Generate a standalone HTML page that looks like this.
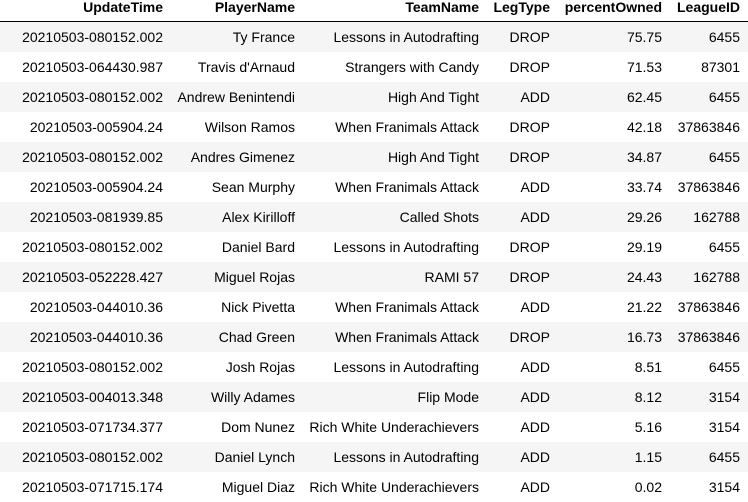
<!DOCTYPE html>
<html><head><meta charset="utf-8"><style>
body{margin:0;width:748px;height:496px;overflow:hidden;background:#fff;font-family:"Liberation Sans",Arial,sans-serif;font-size:14px;color:#000}
.row{position:absolute;left:0;width:748px;height:30px}
.hdr{top:0;height:21px;border-bottom:1px solid #000;font-weight:bold}
.odd{background:#f5f5f5}
.c{position:absolute;text-align:right;white-space:nowrap;line-height:30px}
.hdr .c{line-height:15px}
</style></head><body>
<div id="t"></div>
<script>
const cols=["UpdateTime","PlayerName","TeamName","LegType","percentOwned","LeagueID"];
const rights=[163,295,479,550,662,740];
const rows=[
["20210503-080152.002","Ty France","Lessons in Autodrafting","DROP","75.75","6455"],
["20210503-064430.987","Travis d'Arnaud","Strangers with Candy","DROP","71.53","87301"],
["20210503-080152.002","Andrew Benintendi","High And Tight","ADD","62.45","6455"],
["20210503-005904.24","Wilson Ramos","When Franimals Attack","DROP","42.18","37863846"],
["20210503-080152.002","Andres Gimenez","High And Tight","DROP","34.87","6455"],
["20210503-005904.24","Sean Murphy","When Franimals Attack","ADD","33.74","37863846"],
["20210503-081939.85","Alex Kirilloff","Called Shots","ADD","29.26","162788"],
["20210503-080152.002","Daniel Bard","Lessons in Autodrafting","DROP","29.19","6455"],
["20210503-052228.427","Miguel Rojas","RAMI 57","DROP","24.43","162788"],
["20210503-044010.36","Nick Pivetta","When Franimals Attack","ADD","21.22","37863846"],
["20210503-044010.36","Chad Green","When Franimals Attack","DROP","16.73","37863846"],
["20210503-080152.002","Josh Rojas","Lessons in Autodrafting","ADD","8.51","6455"],
["20210503-004013.348","Willy Adames","Flip Mode","ADD","8.12","3154"],
["20210503-071734.377","Dom Nunez","Rich White Underachievers","ADD","5.16","3154"],
["20210503-080152.002","Daniel Lynch","Lessons in Autodrafting","ADD","1.15","6455"],
["20210503-071715.174","Miguel Diaz","Rich White Underachievers","ADD","0.02","3154"]];
const t=document.getElementById('t');
function cell(r,txt,i){const c=document.createElement('div');c.className='c';c.textContent=txt;
c.style.right=(748-rights[i])+'px';


r.appendChild(c);}
const h=document.createElement('div');h.className='row hdr';


cols.forEach((n,i)=>cell(h,n,i));t.appendChild(h);
rows.forEach((rw,j)=>{const r=document.createElement('div');r.className='row'+(j%2==0?' odd':'');
r.style.top=(22+30*j)+'px';


rw.forEach((v,i)=>cell(r,v,i));t.appendChild(r);});
</script>
</body></html>
